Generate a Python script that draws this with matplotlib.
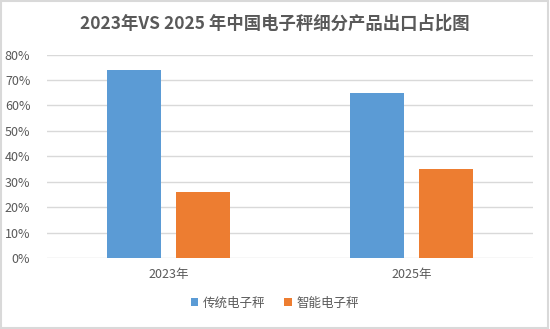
import matplotlib
matplotlib.use("Agg")
import matplotlib.pyplot as plt
import numpy as np
from matplotlib.patches import Rectangle

plt.rcParams["font.family"] = ["Noto Sans CJK SC", "DejaVu Sans"]

years = ["2023年", "2025年"]
series_names = ["传统电子秤", "智能电子秤"]
traditional = [0.74, 0.65]
smart = [0.26, 0.35]
colors = ["#5B9BD5", "#ED7D31"]

fig = plt.figure(figsize=(5.5, 3.29), dpi=100)
ax = fig.add_axes([0.0855, 0.216, 0.8835, 0.618])

x = np.arange(len(years))
w = 0.222
ax.bar(x - 0.142, traditional, w, color=colors[0], label=series_names[0], zorder=3)
ax.bar(x + 0.142, smart, w, color=colors[1], label=series_names[1], zorder=3)

ax.set_xlim(-0.5, 1.5)
ax.set_ylim(0, 0.8)
ax.set_yticks(np.arange(0, 0.81, 0.1))
ax.set_yticklabels([f"{int(round(v * 100))}%" for v in np.arange(0, 0.81, 0.1)])
ax.set_xticks(x)
ax.set_xticklabels(years)
ax.tick_params(axis="both", length=0, labelsize=9, colors="#595959")
ax.tick_params(axis="y", pad=12)
ax.tick_params(axis="x", pad=7)
ax.grid(axis="y", color="#D9D9D9", linewidth=1, zorder=0)
for s in ax.spines.values():
    s.set_visible(False)

fig.suptitle("2023年VS 2025 年中国电子秤细分产品出口占比图", y=0.955,
             fontsize=12.5, fontweight="bold", color="#595959")

fig.legend(loc="lower center", bbox_to_anchor=(0.5, 0.025), ncol=2, frameon=False,
           fontsize=9, labelcolor="#595959", handlelength=0.6, handleheight=0.6,
           handletextpad=0.4, columnspacing=1.5)

# light frame around the whole figure
fig.patches.append(Rectangle((0.002, 0.003), 0.995, 0.994, transform=fig.transFigure,
                             fill=False, edgecolor="#D9D9D9", linewidth=1.5))

fig.savefig("out.png", dpi=100)
